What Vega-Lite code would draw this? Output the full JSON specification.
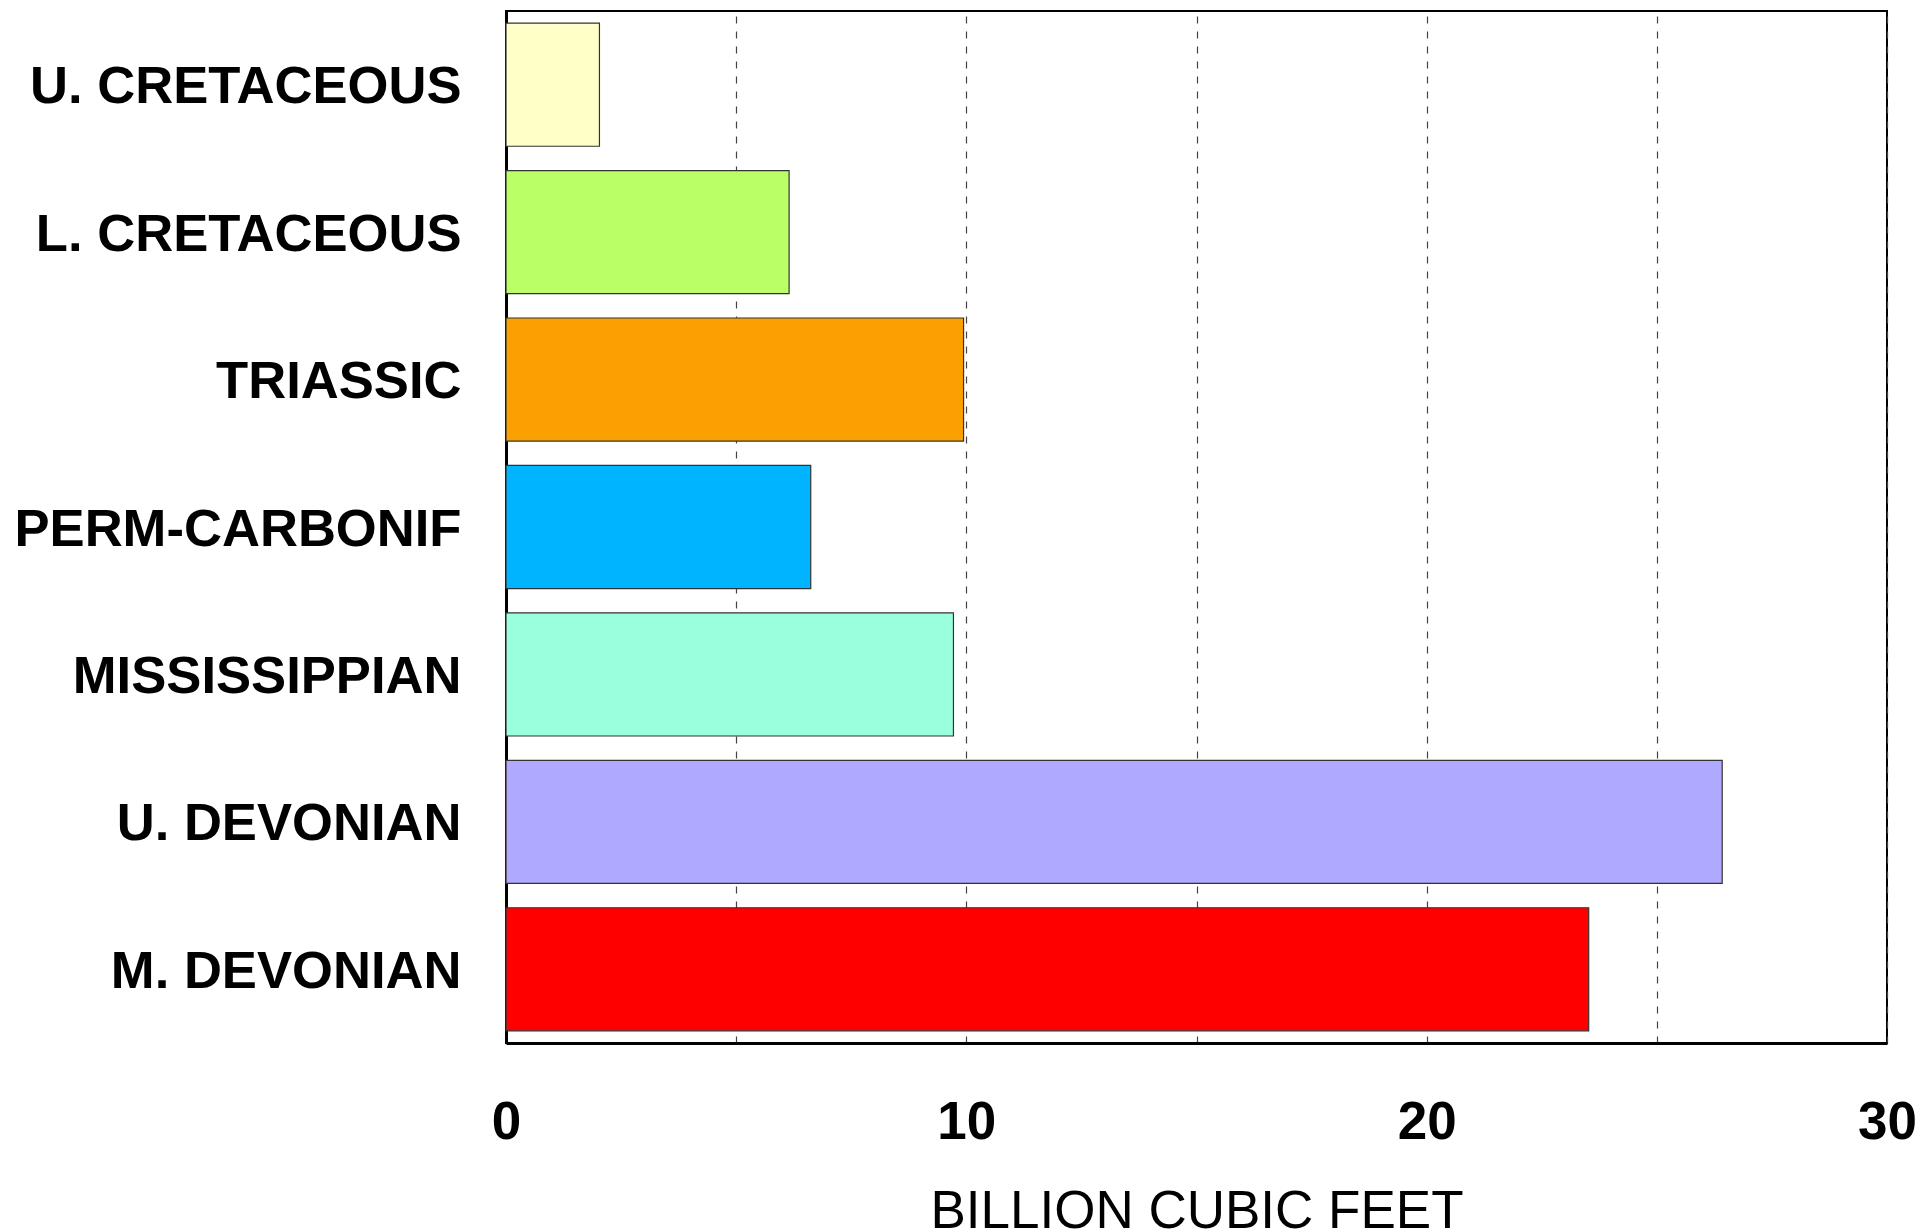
{
  "$schema": "https://vega.github.io/schema/vega-lite/v6.json",
  "width": 1381,
  "height": 1032,
  "autosize": "none",
  "padding": {"left": 506, "top": 11, "right": 36, "bottom": 189},
  "background": "white",
  "config": {
    "font": "Liberation Sans",
    "view": {"stroke": "#000000", "strokeWidth": 2}
  },
  "data": {
    "values": [
      {"period": "U. CRETACEOUS", "bcf": 2.03, "color": "#FFFFC8"},
      {"period": "L. CRETACEOUS", "bcf": 6.15, "color": "#BBFF66"},
      {"period": "TRIASSIC", "bcf": 9.94, "color": "#FAA000"},
      {"period": "PERM-CARBONIF", "bcf": 6.62, "color": "#00B4FF"},
      {"period": "MISSISSIPPIAN", "bcf": 9.72, "color": "#99FFDD"},
      {"period": "U. DEVONIAN", "bcf": 26.42, "color": "#AFAAFF"},
      {"period": "M. DEVONIAN", "bcf": 23.52, "color": "#FF0000"}
    ]
  },
  "mark": {"type": "bar", "stroke": "#333333", "strokeWidth": 1.2},
  "encoding": {
    "y": {
      "field": "period",
      "type": "nominal",
      "sort": null,
      "scale": {"paddingInner": 0.165, "paddingOuter": 0.0825},
      "axis": {
        "title": null,
        "ticks": false,
        "domain": true,
        "domainColor": "#000000",
        "domainWidth": 3,
        "labelFont": "Liberation Sans",
        "labelFontSize": 52.6,
        "labelFontWeight": "bold",
        "labelColor": "#000000",
        "labelPadding": 45,
        "labelOffset": 2.5,
        "labelLimit": 0,
        "grid": false
      }
    },
    "x": {
      "field": "bcf",
      "type": "quantitative",
      "scale": {"domain": [0, 30], "nice": false, "zero": true},
      "axis": {
        "title": "BILLION CUBIC FEET",
        "titleFont": "Liberation Sans",
        "titleFontSize": 53,
        "titleFontWeight": "normal",
        "titleColor": "#000000",
        "titlePadding": 36,
        "values": [0, 5, 10, 15, 20, 25, 30],
        "labelExpr": "datum.value % 10 === 0 ? datum.label : ''",
        "labelFont": "Liberation Sans",
        "labelFontSize": 53,
        "labelFontWeight": "bold",
        "labelColor": "#000000",
        "labelPadding": 53,
        "labelFlush": false,
        "labelOverlap": false,
        "ticks": false,
        "domain": true,
        "domainColor": "#000000",
        "domainWidth": 3,
        "grid": true,
        "gridColor": "#444444",
        "gridDash": [7, 8],
        "gridWidth": 1.2
      }
    },
    "color": {"field": "color", "type": "nominal", "scale": null, "legend": null}
  }
}
